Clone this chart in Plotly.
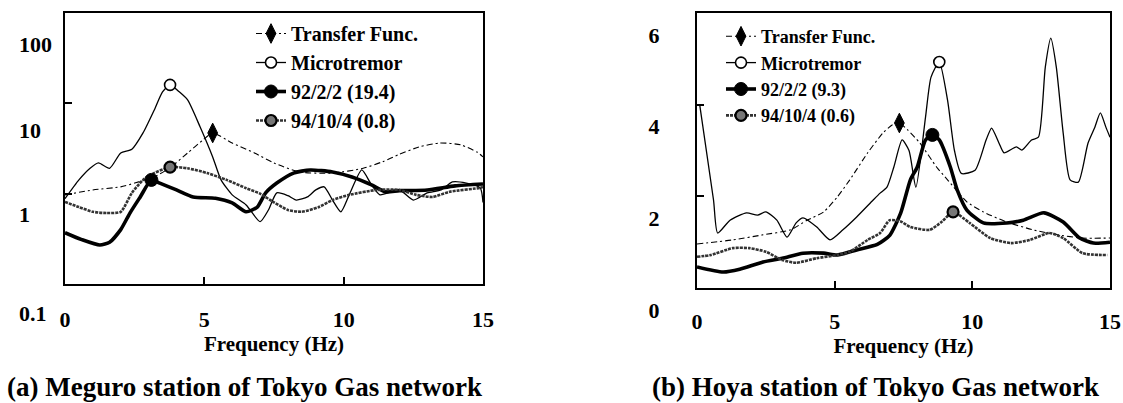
import plotly.graph_objects as go
import math

# ---------------- data: (a) Meguro station (log amplitude) ----------------
meg_tf_f = [0, 1.0, 2.0, 2.5, 3.2, 3.8, 4.4, 4.95, 5.3, 6.0, 6.8, 7.5, 8.4, 9.6, 10.7, 11.4, 12.0, 12.7, 13.45, 14.2, 14.8, 15.0]
meg_tf_v = [0.97, 1.10, 1.19, 1.31, 1.53, 1.97, 2.82, 3.93, 4.7, 3.64, 2.82, 2.19, 1.74, 1.69, 1.91, 2.26, 2.73, 3.29, 3.64, 3.47, 2.87, 2.55]

meg_mt_f = [0, 0.5, 0.9, 1.2, 1.6, 2.0, 2.4, 2.8, 3.2, 3.5, 3.77, 4.1, 4.4, 4.85, 5.3, 5.6, 6.0, 6.5, 7.0, 7.3, 7.6,
            8.0, 8.3, 8.7, 9.0, 9.3, 9.6, 9.9, 10.2, 10.65, 11.0, 11.3, 12.0, 12.5, 13.0, 13.5, 13.9, 14.4, 14.9, 15.0]
meg_mt_v = [0.88, 1.42, 1.91, 2.19, 1.91, 2.82, 3.1, 4.7, 8.4, 13.4, 16.0, 13.4, 10.9, 5.47, 2.55, 1.42, 0.97, 0.75, 0.49, 0.66, 1.02,
            0.95, 0.85, 0.92, 1.10, 1.19, 0.85, 0.63, 0.97, 1.83, 1.25, 0.97, 1.10, 0.85, 1.02, 1.10, 1.35, 1.31, 1.16, 0.80]

meg_e92_f = [0, 0.6, 1.25, 1.6, 2.0, 2.33, 2.7, 3.1, 3.4, 4.0, 4.6, 5.4, 6.0, 6.5, 6.9, 7.2, 7.6, 8.2, 8.8, 9.6, 10.3, 11.0, 11.5, 12.0, 13.0, 14.0, 15.0]
meg_e92_v = [0.37, 0.31, 0.27, 0.29, 0.40, 0.61, 0.92, 1.42, 1.31, 1.10, 0.92, 0.89, 0.79, 0.63, 0.71, 1.02, 1.31, 1.69, 1.83, 1.74, 1.53, 1.25, 1.05, 1.08, 1.10, 1.22, 1.28]

meg_e94_f = [0, 0.5, 1.0, 1.5, 2.0, 2.4, 2.8, 3.2, 3.77, 4.4, 5.1, 5.8, 6.5, 7.0, 7.5, 8.0, 8.5, 9.1, 9.6, 10.2, 11.2, 12.0, 12.6, 13.2, 13.8, 14.9, 15.0]
meg_e94_v = [0.81, 0.71, 0.63, 0.61, 0.63, 1.02, 1.42, 1.69, 1.97, 1.91, 1.69, 1.42, 1.15, 1.0, 0.80, 0.66, 0.63, 0.71, 0.85, 0.97, 1.10, 1.10, 0.97, 0.92, 1.05, 1.16, 1.19]

meg_peak_f = [5.3, 3.77, 3.1, 3.77]
meg_peak_v = [4.7, 16.0, 1.42, 1.97]
meg_names = ["Transfer Func.", "Microtremor", "92/2/2 (19.4)", "94/10/4 (0.8)"]

# ---------------- data: (b) Hoya station (linear amplitude) ----------------
hoy_tf_f = [0, 1.3, 2.4, 3.4, 4.0, 4.6, 5.1, 5.55, 6.2, 6.75, 7.1, 7.35, 7.65, 8.1, 8.7, 9.1, 9.8, 10.4, 11.25, 12.2, 13.1, 14.0, 15.0]
hoy_tf_v = [0.96, 1.05, 1.16, 1.27, 1.48, 1.66, 1.99, 2.36, 2.95, 3.38, 3.56, 3.6, 3.45, 3.16, 2.64, 2.36, 1.88, 1.66, 1.44, 1.27, 1.16, 1.09, 1.09]

hoy_mt_f = [0.1, 0.6, 0.75, 1.2, 1.8, 2.2, 2.5, 2.9, 3.27, 3.6, 3.85, 4.35, 4.83, 5.3, 5.8, 6.4, 6.65, 6.9, 7.15, 7.45, 7.7, 7.95,
            8.3, 8.5, 8.8, 9.1, 9.35, 9.6, 10.1, 10.5, 10.7, 10.97, 11.15, 11.6, 11.8, 12.15, 12.4, 12.65, 12.85, 13.05,
            13.3, 13.55, 13.85, 14.2, 14.45, 14.65, 14.85, 15.0]
hoy_mt_v = [3.99, 1.92, 1.2, 1.48, 1.64, 1.59, 1.66, 1.48, 1.11, 1.42, 1.53, 1.33, 1.05, 1.27, 1.55, 1.92, 2.07, 2.2, 2.64, 3.23, 3.0, 2.2,
            3.73, 4.6, 4.93, 4.1, 3.0, 2.5, 2.57, 3.23, 3.49, 3.16, 2.95, 3.08, 3.01, 3.23, 3.29, 4.82, 5.45, 4.82,
            3.38, 2.36, 2.31, 3.16, 3.51, 3.82, 3.51, 3.29]

hoy_e92_f = [0, 0.95, 1.55, 2.4, 3.1, 3.85, 4.6, 5.1, 5.8, 6.55, 7.0, 7.4, 7.75, 8.0, 8.3, 8.55, 8.8, 9.2, 9.45, 9.8, 10.4,
             11.25, 11.85, 12.6, 13.3, 13.9, 14.4, 15.0]
hoy_e92_v = [0.46, 0.35, 0.41, 0.57, 0.65, 0.76, 0.76, 0.72, 0.83, 0.95, 1.15, 1.64, 2.36, 2.64, 3.23, 3.34, 3.23, 2.64, 2.14, 1.7, 1.42,
             1.42, 1.48, 1.64, 1.44, 1.09, 0.98, 1.0]

hoy_e94_f = [0, 0.5, 1.3, 1.9, 2.5, 3.1, 3.6, 4.35, 5.1, 5.55, 6.2, 6.65, 7.0, 7.4, 7.75, 8.45, 8.9, 9.3, 9.9, 10.65, 11.4, 12.1, 12.8, 13.3, 14.0, 14.9]
hoy_e94_v = [0.68, 0.72, 0.87, 0.87, 0.79, 0.61, 0.55, 0.65, 0.72, 0.79, 1.05, 1.2, 1.48, 1.45, 1.33, 1.27, 1.45, 1.66, 1.42, 1.09, 0.98, 1.05, 1.2, 1.09, 0.76, 0.72]

hoy_peak_f = [7.35, 8.8, 8.55, 9.3]
hoy_peak_v = [3.6, 4.93, 3.34, 1.66]
hoy_names = ["Transfer Func.", "Microtremor", "92/2/2 (9.3)", "94/10/4 (0.6)"]

# tick labels
x_ticks = [0, 5, 10, 15]
meg_y_ticks = [0.1, 1, 10, 100]
meg_y_text = ["0.1", "1", "10", "100"]
hoy_y_ticks = [0, 2, 4, 6]

# ---------------- styles ----------------
FONT = "Liberation Serif, Times New Roman, serif"
line_styles = [
    dict(color="black", width=1.1, dash="6px,3px,2px,3px"),
    dict(color="black", width=1.3),
    dict(color="black", width=3.6),
    dict(color="#333333", width=2.6, dash="3px,1px"),
]
marker_styles = [
    dict(symbol="diamond-tall", size=14, color="black", line=dict(color="black", width=1)),
    dict(symbol="circle", size=11, color="white", line=dict(color="black", width=1.6)),
    dict(symbol="circle", size=13, color="black", line=dict(color="black", width=1)),
    dict(symbol="circle", size=11, color="#777777", line=dict(color="black", width=2.2)),
]

fig = go.Figure()

def add_panel(series, peaks_f, peaks_v, names, xa, ya, legend):
    for i, (fx, vy) in enumerate(series):
        fig.add_trace(go.Scatter(
            x=fx, y=vy, mode="lines", line=dict(**line_styles[i], shape="spline", smoothing=0.6),
            xaxis=xa, yaxis=ya, showlegend=False, legendgroup=legend + str(i), hoverinfo="skip"))
    for i in range(len(names)):
        fig.add_trace(go.Scatter(
            x=[peaks_f[i]], y=[peaks_v[i]], mode="lines+markers", name=names[i],
            line=line_styles[i], marker=marker_styles[i],
            xaxis=xa, yaxis=ya, legend=legend, legendgroup=legend + str(i)))

add_panel([(meg_tf_f, meg_tf_v), (meg_mt_f, meg_mt_v), (meg_e92_f, meg_e92_v), (meg_e94_f, meg_e94_v)],
          meg_peak_f, meg_peak_v, meg_names, "x", "y", "legend")
add_panel([(hoy_tf_f, hoy_tf_v), (hoy_mt_f, hoy_mt_v), (hoy_e92_f, hoy_e92_v), (hoy_e94_f, hoy_e94_v)],
          hoy_peak_f, hoy_peak_v, hoy_names, "x2", "y2", "legend2")

W, H = 1123, 403
tickfont = dict(family=FONT, size=22, color="black", weight="bold")
titlefont = dict(family=FONT, size=21, color="black", weight="bold")
axis_common = dict(showline=True, linecolor="black", linewidth=2, mirror=True, ticks="inside",
                   ticklen=7, tickwidth=1.5, tickcolor="black", showgrid=False, zeroline=False,
                   automargin=False)

fig.update_layout(
    template="none",
    width=W, height=H, margin=dict(l=0, r=0, t=0, b=0, autoexpand=False),
    paper_bgcolor="white", plot_bgcolor="white",
    font=dict(family=FONT, color="black"),
    xaxis=dict(domain=[65 / W, 483 / W], range=[0, 15], anchor="y", tickvals=x_ticks,
               tickfont=tickfont, ticklabelstandoff=15,
               title=dict(text="Frequency (Hz)", font=titlefont, standoff=2), **axis_common),
    yaxis=dict(domain=[(H - 284) / H, (H - 13) / H], type="log", range=[-1, 2], anchor="x",
               tickvals=meg_y_ticks, showticklabels=False, **axis_common),
    xaxis2=dict(domain=[697 / W, 1110 / W], range=[0, 15], anchor="y2", tickvals=x_ticks,
                tickfont=tickfont, ticklabelstandoff=13,
                title=dict(text="Frequency (Hz)", font=titlefont, standoff=0), **axis_common),
    yaxis2=dict(domain=[(H - 288) / H, (H - 13) / H], range=[0, 6], anchor="x2",
                tickvals=hoy_y_ticks, tickfont=tickfont, ticklabelshift=22, ticklabelstandoff=31,
                **axis_common),
    legend=dict(x=251 / W, xanchor="left", y=(H - 14) / H, yanchor="top", bgcolor="rgba(0,0,0,0)",
                font=dict(family=FONT, size=20, color="black", weight="bold"), tracegroupgap=0),
    legend2=dict(x=721 / W, xanchor="left", y=(H - 18) / H, yanchor="top", bgcolor="rgba(0,0,0,0)",
                 font=dict(family=FONT, size=18, color="black", weight="bold"), tracegroupgap=0),
)

# left-panel y tick labels (left aligned, as printed)
meg_label_shift = [-29, -21, -27, -32]
for val, txt, sh in zip(meg_y_ticks, meg_y_text, meg_label_shift):
    fig.add_annotation(x=17 / W, xref="paper", xanchor="left", y=math.log10(val), yref="y",
                       yshift=sh, text=txt, showarrow=False, font=tickfont)

# captions
cap_font = dict(family=FONT, size=27, color="black", weight="bold")
fig.add_annotation(x=244 / W, y=(H - 387) / H, xref="paper", yref="paper", xanchor="center",
                   yanchor="middle", showarrow=False,
                   text="(a) Meguro station of Tokyo Gas network", font=cap_font)
fig.add_annotation(x=875 / W, y=(H - 387) / H, xref="paper", yref="paper", xanchor="center",
                   yanchor="middle", showarrow=False,
                   text="(b) Hoya station of Tokyo Gas network", font=cap_font)

fig.write_html("out.html")
